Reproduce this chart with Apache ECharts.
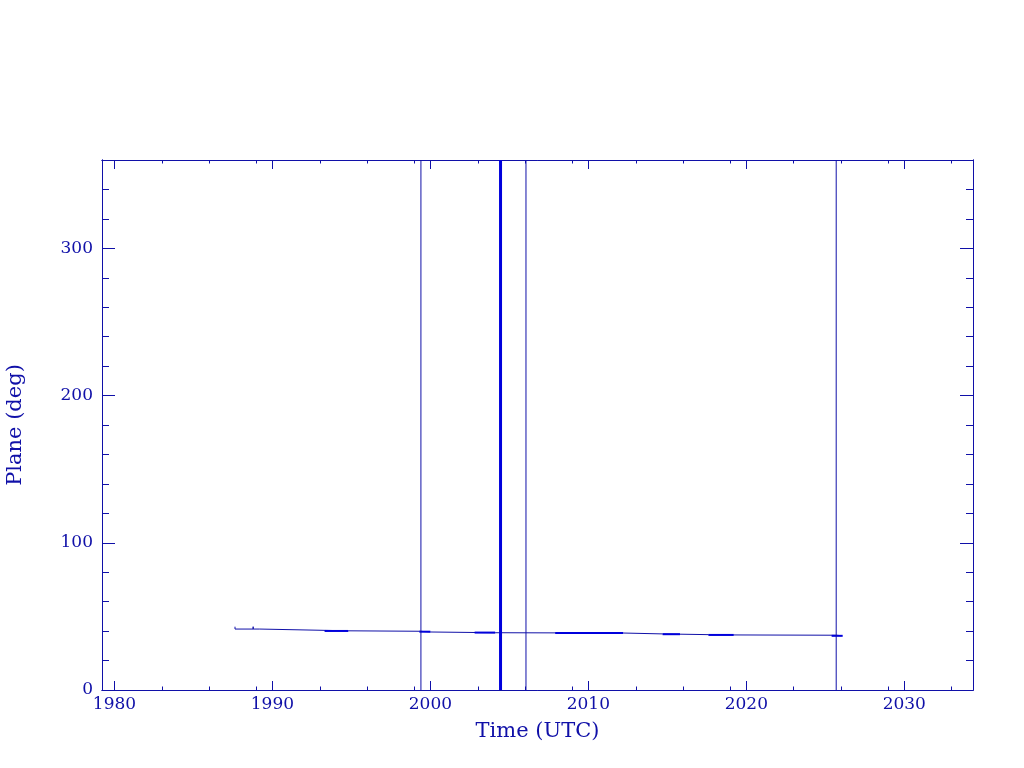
<!DOCTYPE html>
<html>
<head>
<meta charset="utf-8">
<script src="https://cdn.jsdelivr.net/npm/echarts@6/dist/echarts.min.js"></script>
<style>html,body{margin:0;padding:0;background:#fff}#c{width:1024px;height:768px}</style>
</head>
<body>
<div id="c"></div>
<script>
// ---- data ----
var xMajorTicks = [1980, 1990, 2000, 2010, 2020, 2030];
var xMinorTicks = [1983, 1986, 1989, 1993, 1996, 1999, 2003, 2006, 2009, 2013, 2016, 2019, 2023, 2026, 2029, 2033];
var yMajorTicks = [0, 100, 200, 300];
var yMinorTicks = [20, 40, 60, 80, 120, 140, 160, 180, 220, 240, 260, 280, 320, 340];
var mainLine = [
  [1987.63, 43.0], [1987.63, 41.4], [1988.78, 41.4], [1988.78, 43.0], [1988.78, 41.4],
  [1989.2, 41.4], [1989.2, 40.6], [1994.8, 40.2], [1999.3, 39.9], [2000.0, 39.4],
  [2004.1, 38.9], [2007.9, 38.8], [2012.2, 38.7], [2014.7, 38.1], [2017.6, 37.6],
  [2019.2, 37.4], [2025.7, 37.2], [2026.0, 36.9]
];
var denseSegments = [
  [[1993.3, 40.1], [1994.8, 40.1]],
  [[1999.3, 39.6], [2000.0, 39.6]],
  [[2002.8, 39.0], [2004.1, 39.0]],
  [[2007.9, 38.8], [2012.2, 38.8]],
  [[2014.7, 37.9], [2015.8, 37.9]],
  [[2017.6, 37.4], [2019.2, 37.4]],
  [[2025.4, 36.8], [2026.1, 36.8]]
];
var wrapTimesThin = [1999.40, 2006.05, 2025.69];
var wrapTimesThick = [2004.44];
var yWrapRange = [0, 360];

// ---- chart ----
var navy = '#1010a8';
var bright = '#0000dc';
var font = 'DejaVu Serif';
var xMin = 1979.21, xMax = 2034.35;

function xAxisDef(pos, ticks, len, labels) {
  return {
    type: 'value', position: pos, min: xMin, max: xMax,
    axisLine: {show: true, onZero: false, lineStyle: {color: navy, width: 1}},
    axisTick: {show: true, inside: true, length: len, customValues: ticks, lineStyle: {color: navy, width: 1}},
    axisLabel: {show: labels, customValues: ticks, color: navy, fontFamily: font, fontSize: 17, margin: 6,
      formatter: function (v) { return String(Math.round(v)); }},
    splitLine: {show: false}
  };
}
function yAxisDef(pos, ticks, len, labels) {
  return {
    type: 'value', position: pos, min: 0, max: 360,
    axisLine: {show: true, onZero: false, lineStyle: {color: navy, width: 1}},
    axisTick: {show: true, inside: true, length: len, customValues: ticks, lineStyle: {color: navy, width: 1}},
    axisLabel: {show: labels, customValues: ticks, color: navy, fontFamily: font, fontSize: 17, margin: 9,
      formatter: function (v) { return String(Math.round(v)); }},
    splitLine: {show: false}
  };
}

var xAxes = [
  xAxisDef('bottom', xMajorTicks, 9, true),
  xAxisDef('bottom', xMinorTicks, 3.5, false),
  xAxisDef('top', xMajorTicks, 9, false),
  xAxisDef('top', xMinorTicks, 3.5, false)
];
xAxes[0].name = 'Time (UTC)';
xAxes[0].nameLocation = 'middle';
xAxes[0].nameGap = 31;
xAxes[0].nameTextStyle = {color: navy, fontFamily: font, fontSize: 21};

var yAxes = [
  yAxisDef('left', yMajorTicks, 13, true),
  yAxisDef('left', yMinorTicks, 7, false),
  yAxisDef('right', yMajorTicks, 13, false),
  yAxisDef('right', yMinorTicks, 7, false)
];
yAxes[0].name = 'Plane (deg)';
yAxes[0].nameLocation = 'middle';
yAxes[0].nameGap = 76;
yAxes[0].nameTextStyle = {color: navy, fontFamily: font, fontSize: 21};

var series = [];
series.push({type: 'line', data: mainLine, symbol: 'none', lineStyle: {color: navy, width: 1}, animation: false});
denseSegments.forEach(function (seg) {
  series.push({type: 'line', data: seg, symbol: 'none', lineStyle: {color: bright, width: 2}, animation: false});
});
wrapTimesThin.forEach(function (t) {
  series.push({type: 'line', data: [[t, yWrapRange[0]], [t, yWrapRange[1]]], symbol: 'none', lineStyle: {color: navy, width: 1}, animation: false});
});
wrapTimesThick.forEach(function (t) {
  series.push({type: 'line', data: [[t, yWrapRange[0]], [t, yWrapRange[1]]], symbol: 'none', lineStyle: {color: bright, width: 3}, animation: false});
});

var chart = echarts.init(document.getElementById('c'), null, {renderer: 'canvas'});
chart.setOption({
  animation: false,
  backgroundColor: '#ffffff',
  grid: {left: 102, right: 51, top: 160, bottom: 78, containLabel: false, outerBoundsMode: 'none'},
  xAxis: xAxes,
  yAxis: yAxes,
  series: series
});
</script>
</body>
</html>
